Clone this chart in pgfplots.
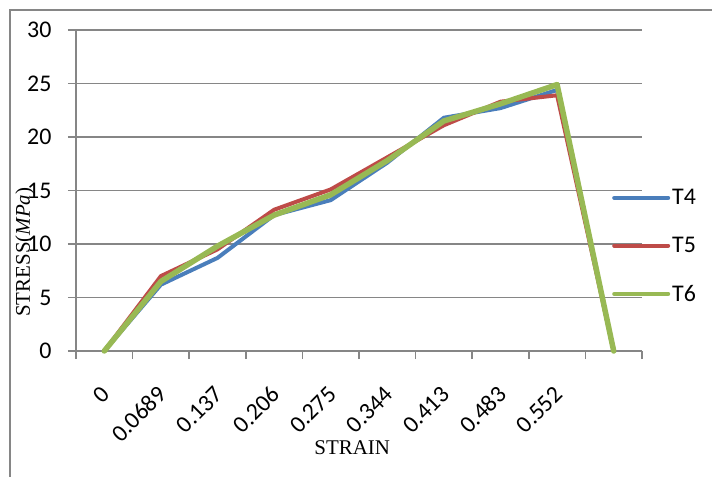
\documentclass[border=0pt]{standalone}
\usepackage{fontspec}
\setmainfont{Carlito}
\newfontfamily\seriffont{Liberation Serif}
\usepackage{pgfplots}
\pgfplotsset{compat=1.18}
\definecolor{cT4}{HTML}{4A7EBB}
\definecolor{cT5}{HTML}{BE4B48}
\definecolor{cT6}{HTML}{98B954}
\definecolor{gridc}{HTML}{868686}
\begin{document}
\begin{tikzpicture}
\useasboundingbox (0,0) rectangle (712bp,477bp);
\draw[gridc, line width=1.2bp] (10bp,0) -- (10bp,467bp) -- (712bp,467bp);
\begin{axis}[
  at={(76bp,126bp)}, anchor=south west,
  scale only axis, width=566bp, height=321bp,
  xmin=-0.5, xmax=9.5, ymin=0, ymax=30,
  clip=false,
  xtick={0,...,9},
  xticklabels={0,0.0689,0.137,0.206,0.275,0.344,0.413,0.483,0.552,{}},
  minor xtick={-0.5,0.5,...,9.5},
  ytick={0,5,...,30},
  axis lines=left,
  axis line style={-, draw=gridc, line width=1.5bp},
  ymajorgrids,
  grid style={draw=gridc, line width=1.5bp},
  tick align=outside,
  major tick length=8bp, minor tick length=8bp,
  tick style={draw=gridc, line width=1.5bp},
  major x tick style={draw=none},
  /pgf/number format/assume math mode=true,
  ticklabel style={font=\fontsize{24}{28}\selectfont},
  yticklabel style={xshift=-13bp},
  xticklabel style={xshift=4bp, yshift=-29bp, rotate=45, anchor=east},
  xlabel={STRAIN},
  xlabel style={at={(axis description cs:0.488,0)}, anchor=base, yshift=-103bp, font=\seriffont\fontsize{21}{25}\selectfont},
  ylabel={STRESS(\textit{MPa})},
  ylabel style={at={(axis description cs:-0.0813,0.308)}, anchor=base, font=\seriffont\fontsize{21}{25}\selectfont},
  legend style={at={(0.947,0.327)}, anchor=west, draw=none, fill=none, font=\fontsize{24}{28}\selectfont, row sep=27bp, inner sep=0pt},
  legend cell align=left,
  legend image code/.code={\draw[#1,line width=4bp,line cap=round] (0bp,0bp) -- (54bp,0bp);},
  every axis plot/.append style={line join=round, line cap=round},
]
\addplot[cT4, line width=4bp] coordinates {(0,0) (1,6.2) (2,8.7) (3,12.7) (4,14.1) (5,17.6) (6,21.8) (7,22.7) (8,24.4) (9,0)};
\addlegendentry{T4}
\addplot[cT5, line width=4bp] coordinates {(0,0) (1,7.0) (2,9.5) (3,13.2) (4,15.1) (5,18.1) (6,21.1) (7,23.3) (8,23.9) (9,0)};
\addlegendentry{T5}
\addplot[cT6, line width=5.5bp] coordinates {(0,0) (1,6.5) (2,9.8) (3,12.7) (4,14.6) (5,17.8) (6,21.5) (7,23.1) (8,24.9) (9,0)};
\addlegendentry{T6}
\end{axis}
\end{tikzpicture}
\end{document}
